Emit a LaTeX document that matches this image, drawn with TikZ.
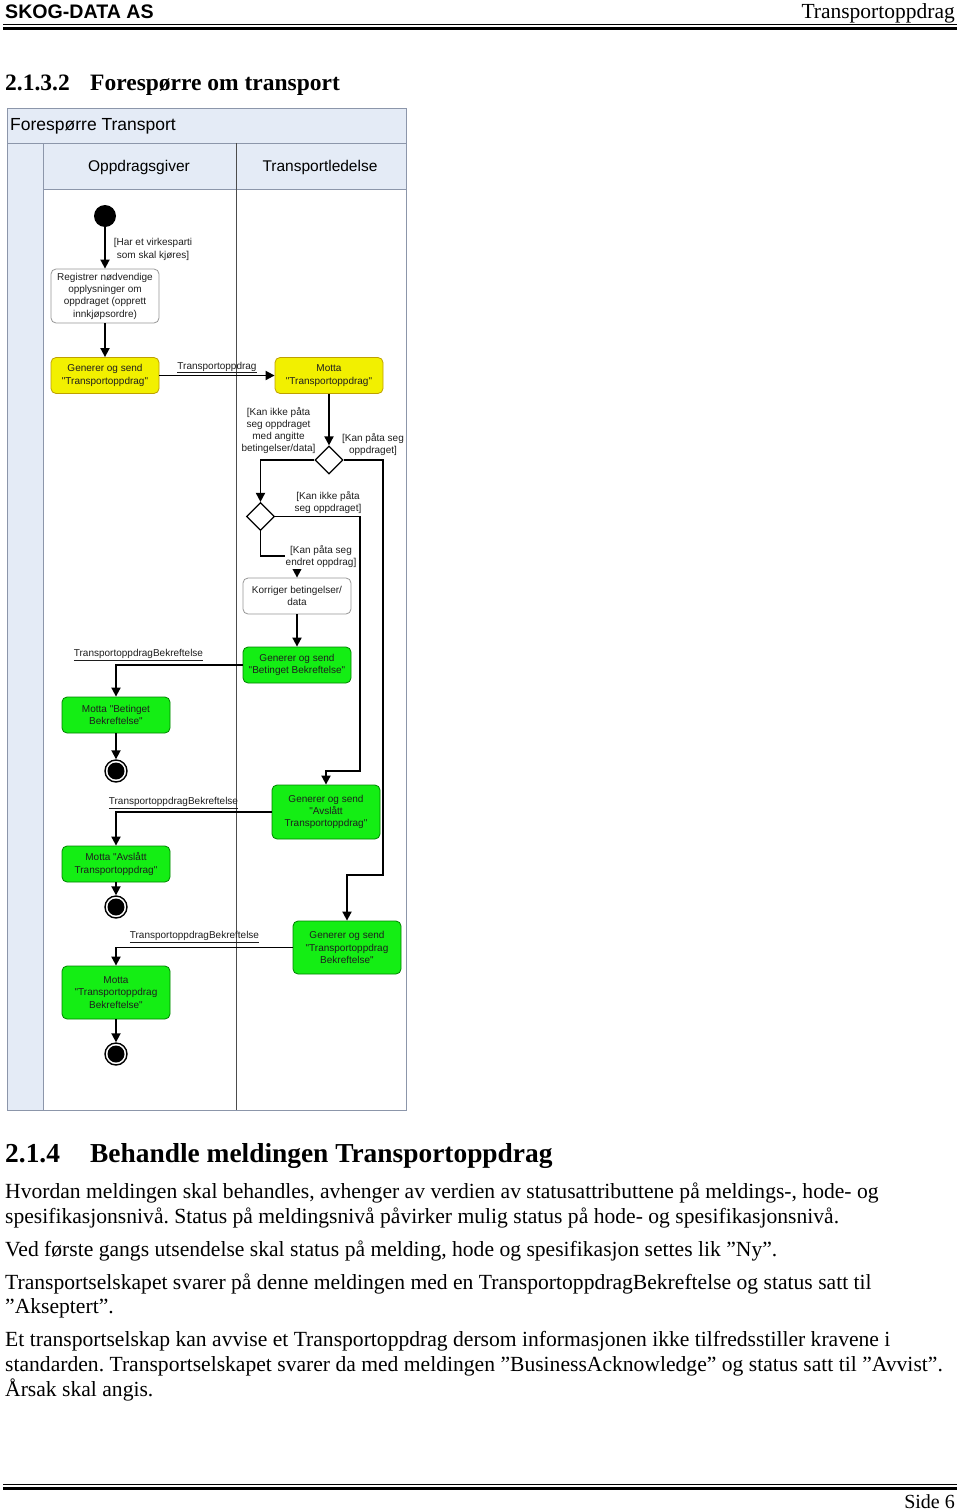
\documentclass[tikz,border=0pt]{standalone}
\usepackage{fontspec}
\setmainfont{Liberation Serif}
\newfontfamily\arialfont{Liberation Sans}
\usetikzlibrary{arrows.meta,shapes.geometric}
\definecolor{lanefill}{RGB}{228,235,246}
\definecolor{laneline}{RGB}{140,150,170}
\definecolor{actyellow}{RGB}{242,240,0}
\definecolor{yellowline}{RGB}{190,160,0}
\definecolor{actgreen}{RGB}{20,238,20}
\definecolor{greenline}{RGB}{0,130,0}
\definecolor{boxline}{RGB}{150,150,150}
\definecolor{diatext}{RGB}{30,30,30}
\frenchspacing
\begin{document}
\begin{tikzpicture}[x=1pt,y=-1pt,
  act/.style={rectangle, rounded corners=5pt, draw=boxline, line width=0.8pt, fill=white,
    minimum width=108pt, minimum height=36pt, align=center, inner sep=1pt, text=diatext,
    font=\arialfont\fontsize{10}{12.3}\selectfont},
  yact/.style={act, fill=actyellow, draw=yellowline},
  gact/.style={act, fill=actgreen, draw=greenline},
  guard/.style={align=center, inner sep=0pt, text=diatext, font=\arialfont\fontsize{10}{12.3}\selectfont},
  flow/.style={line width=1.8pt, -{Triangle[length=9pt,width=9pt]}},
  startnode/.style={circle, fill=black, minimum size=22pt, inner sep=0pt},
  endnode/.style={circle, draw=black, line width=1.4pt, fill=white, minimum size=22pt, inner sep=0pt,
    path picture={\fill[black] (path picture bounding box.center) circle (8.5pt);}},
  decision/.style={diamond, draw=black, line width=1.2pt, fill=white, minimum width=28pt, minimum height=28pt, inner sep=0pt},
  bodytext/.style={anchor=base west, inner sep=0pt, font=\fontsize{21.6}{25}\selectfont}]
\useasboundingbox (0,0) rectangle (960,1512);
\node[anchor=base west, inner sep=0pt, font=\arialfont\bfseries\fontsize{19.6}{22}\selectfont] (firma) at (5,18.5){SKOG-DATA AS};
\node[anchor=base east, inner sep=0pt, font=\fontsize{21.5}{24}\selectfont] (doktittel) at (955,19){Transportoppdrag};
\draw[line width=1pt] (3,24.5) -- (957,24.5);
\draw[line width=2.2pt] (3,28.5) -- (957,28.5);
\node[anchor=base west, inner sep=0pt, font=\bfseries\fontsize{23.5}{26}\selectfont] (nr1) at (5,90){2.1.3.2};
\node[anchor=base west, inner sep=0pt, font=\bfseries\fontsize{23.5}{26}\selectfont] (overskrift1) at (90,90){Forespørre om transport};

\fill[lanefill] (7,108) rectangle (406,189);
\fill[lanefill] (7,143) rectangle (43,1110);
\draw[laneline, line width=1pt] (7,108) rectangle (406,1110);
\draw[laneline, line width=0.8pt] (7,143) -- (406,143);
\draw[laneline, line width=0.8pt] (43,189) -- (406,189);
\draw[laneline, line width=0.8pt] (43,143) -- (43,1110);
\draw[black!70, line width=0.8pt] (236,143) -- (236,1110);
\node[anchor=west, inner sep=0pt, font=\arialfont\fontsize{17.5}{20}\selectfont] (diagramtittel) at (10,126){Forespørre Transport};
\node[inner sep=0pt, font=\arialfont\fontsize{15.5}{18}\selectfont] (bane1) at (139,167){Oppdragsgiver};
\node[inner sep=0pt, font=\arialfont\fontsize{15.5}{18}\selectfont] (bane2) at (320,167){Transportledelse};

\node[startnode] (start) at (105,216){};
\node[act, minimum height=54pt] (registrer) at (105,296){Registrer nødvendige\\opplysninger om\\oppdraget (opprett\\innkjøpsordre)};
\node[yact] (gensendTO) at (105,375.5){Generer og send\\"Transportoppdrag"};
\node[yact] (mottaTO) at (329,375.5){Motta\\"Transportoppdrag"};
\node[decision] (valg1) at (329,460){};
\node[decision] (valg2) at (260.5,516.5){};
\node[act] (korriger) at (297,596){Korriger betingelser/\\data};
\node[gact] (gensendBet) at (297,665){Generer og send\\"Betinget Bekreftelse"};
\node[gact] (mottaBet) at (116,715){Motta "Betinget\\Bekreftelse"};
\node[endnode] (slutt1) at (116,771){};
\node[gact, minimum height=54pt] (gensendAvs) at (326,812){Generer og send\\"Avslått\\Transportoppdrag"};
\node[gact] (mottaAvs) at (116,864){Motta "Avslått\\Transportoppdrag"};
\node[endnode] (slutt2) at (116,907){};
\node[gact, minimum height=53pt] (gensendBekr) at (347,947.5){Generer og send\\"Transportoppdrag\\Bekreftelse"};
\node[gact, minimum height=53pt] (mottaBekr) at (116,992.5){Motta\\"Transportoppdrag\\Bekreftelse"};
\node[endnode] (slutt3) at (116,1054){};

\node[guard] (vakt1) at (153,249.5){[Har et virkesparti\\som skal kjøres]};
\node[guard] (melding1) at (217,367.5){\underline{Transportoppdrag}};
\node[guard] (vakt2) at (278.5,430.5){[Kan ikke påta\\seg oppdraget\\med angitte\\betingelser/data]};
\node[guard] (vakt3) at (373,444.5){[Kan påta seg\\oppdraget]};
\node[guard] (vakt4) at (328,502.5){[Kan ikke påta\\seg oppdraget]};
\node[guard] (melding2) at (138.5,655){\underline{TransportoppdragBekreftelse}};
\node[guard] (melding3) at (173.5,803){\underline{TransportoppdragBekreftelse}};
\node[guard] (melding4) at (194.5,937){\underline{TransportoppdragBekreftelse}};

\coordinate (hogre1) at (383,875);
\coordinate (hogre2) at (360,771);
\coordinate (knekk1) at (297,556);
\draw[flow] (start) -- (registrer);
\draw[flow] (registrer) -- (gensendTO);
\draw[flow] (gensendTO) -- (mottaTO);
\draw[flow] (mottaTO) -- (valg1);
\draw[flow] (valg1.west) -| (valg2.north);
\draw[flow] (valg1.east) -| (hogre1) -| (gensendBekr.north);
\draw[flow] (valg2.east) -| (hogre2) -| (gensendAvs.north);
\draw[flow] (valg2.south) |- (knekk1) -- (korriger.north);
\draw[flow] (korriger) -- (gensendBet);
\draw[flow] (gensendBet.west) -| (mottaBet.north);
\draw[flow] (mottaBet) -- (slutt1);
\draw[flow] (gensendAvs.west) -| (mottaAvs.north);
\draw[flow] (mottaAvs) -- (slutt2);
\draw[flow] (gensendBekr.west) -| (mottaBekr.north);
\draw[flow] (mottaBekr) -- (slutt3);
\node[guard, fill=white, inner sep=1pt] (vakt5) at (321,556.5){[Kan påta seg\\endret oppdrag]};

\node[anchor=base west, inner sep=0pt, font=\bfseries\fontsize{27.4}{30}\selectfont] (nr2) at (5,1162){2.1.4};
\node[anchor=base west, inner sep=0pt, font=\bfseries\fontsize{27.4}{30}\selectfont] (overskrift2) at (90,1162){Behandle meldingen Transportoppdrag};
\node[bodytext] (linje1) at (5,1198){Hvordan meldingen skal behandles, avhenger av verdien av statusattributtene på meldings-, hode- og};
\node[bodytext] (linje2) at (5,1223){spesifikasjonsnivå. Status på meldingsnivå påvirker mulig status på hode- og spesifikasjonsnivå.};
\node[bodytext] (linje3) at (5,1256){Ved første gangs utsendelse skal status på melding, hode og spesifikasjon settes lik ”Ny”.};
\node[bodytext] (linje4) at (5,1289){Transportselskapet svarer på denne meldingen med en TransportoppdragBekreftelse og status satt til};
\node[bodytext] (linje5) at (5,1313){”Akseptert”.};
\node[bodytext] (linje6) at (5,1346){Et transportselskap kan avvise et Transportoppdrag dersom informasjonen ikke tilfredsstiller kravene i};
\node[bodytext] (linje7) at (5,1371){standarden. Transportselskapet svarer da med meldingen ”BusinessAcknowledge” og status satt til ”Avvist”.};
\node[bodytext] (linje8) at (5,1396){Årsak skal angis.};

\draw[line width=1pt] (3,1484.5) -- (957,1484.5);
\draw[line width=2.2pt] (3,1488.5) -- (957,1488.5);
\node[anchor=base east, inner sep=0pt, font=\fontsize{20}{22}\selectfont] (side) at (955,1508){Side 6};
\end{tikzpicture}
\end{document}
